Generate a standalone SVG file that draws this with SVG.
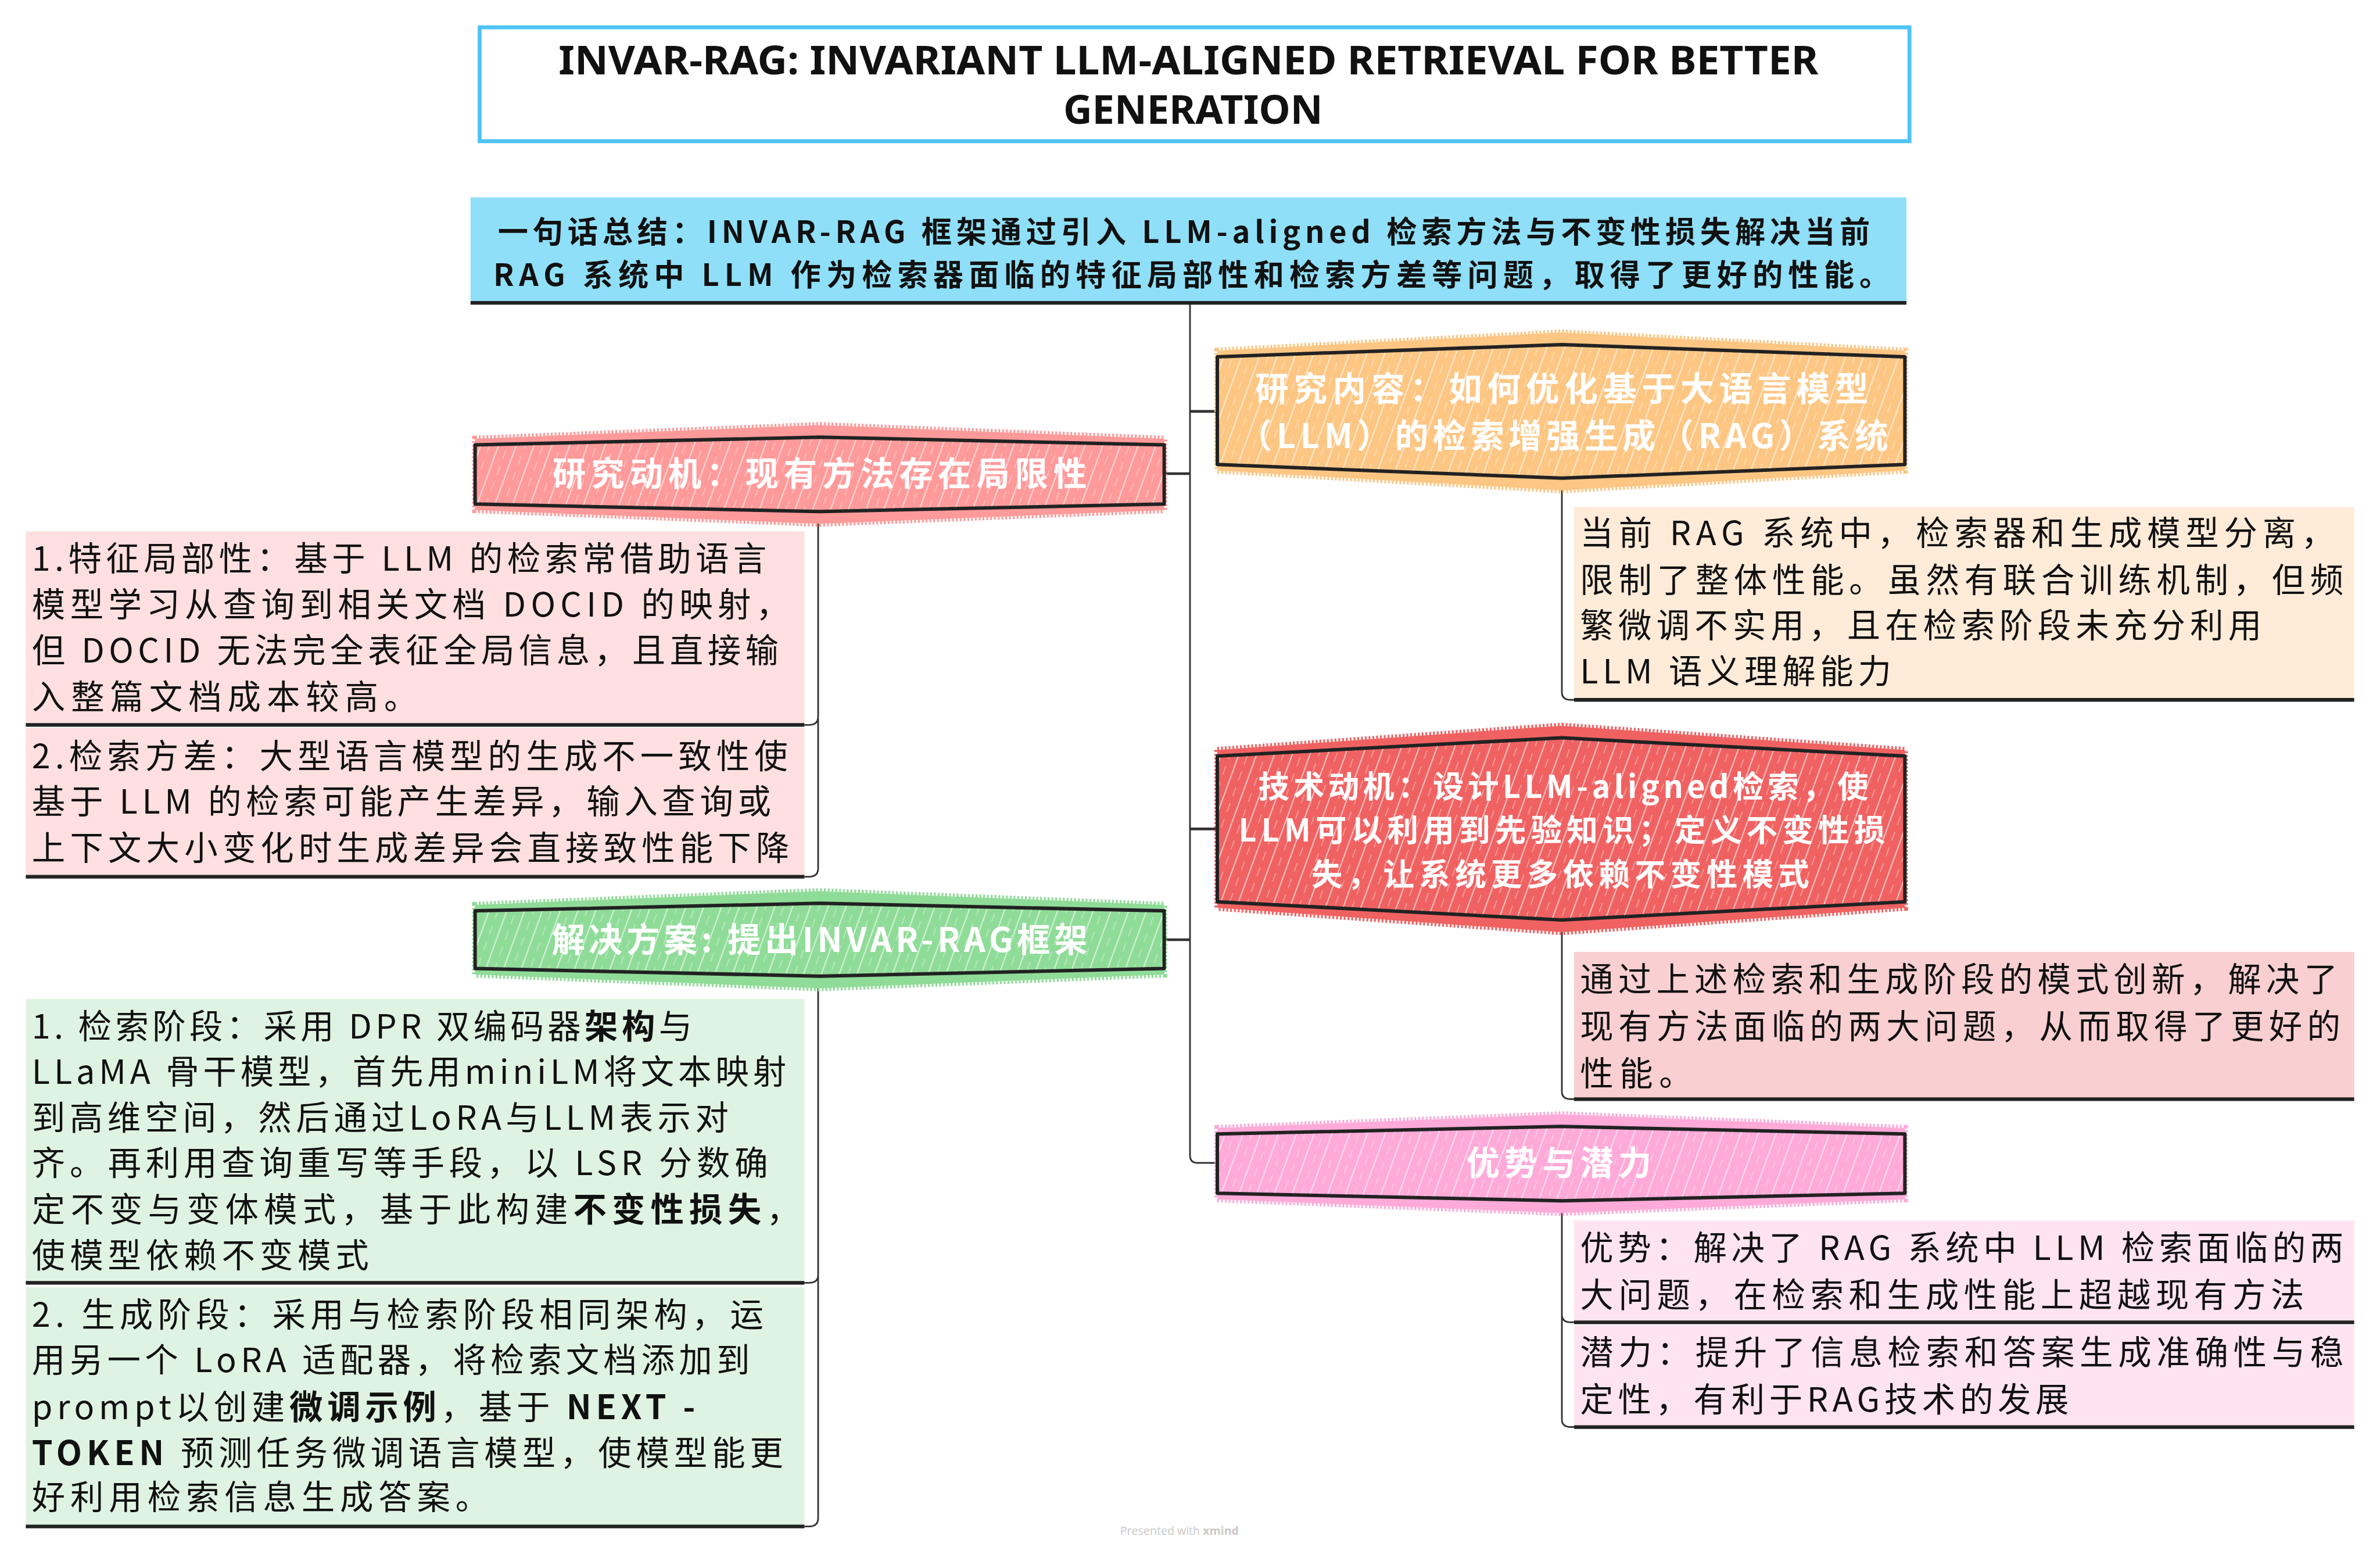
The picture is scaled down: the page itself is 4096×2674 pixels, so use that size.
<svg xmlns="http://www.w3.org/2000/svg" width="4096" height="2674" viewBox="0 0 4096 2674">
<style>
.conn{fill:none;stroke:#333;stroke-width:1.1}
.stub{fill:none;stroke:#333;stroke-width:1.8}
.hexo{stroke:#222;stroke-width:2.3;stroke-linejoin:round;fill:none}
.bline{stroke:#222;stroke-width:2.4}
.body{font-family:"Noto Sans CJK SC","Noto Sans",sans-serif;font-size:22px;fill:#111}
.hext{font-family:"Noto Sans CJK SC","Noto Sans",sans-serif;font-size:22px;font-weight:bold;fill:#fff;text-anchor:middle}
.hext2{font-size:20.5px}
.sum{font-family:"Noto Sans CJK SC","Noto Sans",sans-serif;font-size:20px;font-weight:bold;fill:#111;text-anchor:middle}
.title{font-family:"Noto Sans","Liberation Sans",sans-serif;font-size:26px;font-weight:bold;fill:#111;text-anchor:middle}
.b{font-weight:bold}
.foot{font-family:"Open Sans","Noto Sans",sans-serif;font-size:7.5px;fill:#c8c8c8}
</style>
<defs>
<pattern id="hatch" width="11" height="11" patternUnits="userSpaceOnUse" patternTransform="rotate(20)">
<line x1="2" y1="0" x2="2" y2="11" stroke="#fff" stroke-width="0.7" stroke-opacity="0.7"/>
<line x1="7.5" y1="0" x2="7.5" y2="6" stroke="#fff" stroke-width="0.5" stroke-opacity="0.5"/>
</pattern>
</defs>
<rect width="4096" height="2674" fill="#fff"/>
<g transform="scale(2.612245)">

<g id="connectors">
<path class="conn" d="M784 200 V761 Q784 766 789 766 H802"/>
<path class="stub" d="M784 312 H767"/>
<path class="stub" d="M784 619 H767"/>
<path class="stub" d="M784 271 H802"/>
<path class="stub" d="M784 546 H802"/>
<path class="conn" d="M539 338 V472 Q539 477.5 533 477.5 H530 M539 472 V572 Q539 577.5 533 577.5 H530"/>
<path class="conn" d="M539 644 V840 Q539 845 533 845 H530 M539 840 V1000 Q539 1005.5 533 1005.5 H530"/>
<path class="conn" d="M1029 316 V456 Q1029 461 1035 461 H1037"/>
<path class="conn" d="M1029 607 V719 Q1029 724 1035 724 H1037"/>
<path class="conn" d="M1029 792 V866 Q1029 871 1035 871 H1037 M1029 866 V935 Q1029 940 1035 940 H1037"/>
</g>

<g id="title">
<rect x="316" y="18" width="942" height="75" fill="#fff" stroke="#4fc3f7" stroke-width="2.6"/>
<text class="title" x="783" y="49" textLength="830" lengthAdjust="spacingAndGlyphs">INVAR-RAG: INVARIANT LLM-ALIGNED RETRIEVAL FOR BETTER</text>
<text class="title" x="786" y="81.5" textLength="171" lengthAdjust="spacingAndGlyphs">GENERATION</text>
</g>

<g id="summary">
<rect x="310" y="130" width="946" height="69" fill="#8fdff8"/>
<line class="bline" x1="310" y1="199.5" x2="1256" y2="199.5"/>
<text class="sum" x="780" y="160" textLength="904">一句话总结：INVAR-RAG 框架通过引入 LLM-aligned 检索方法与不变性损失解决当前</text>
<text class="sum" x="785" y="188.5" textLength="920">RAG 系统中 LLM 作为检索器面临的特征局部性和检索方差等问题，取得了更好的性能。</text>
</g>

<g id="motivation">
<polygon points="313,289 540,280 767,289 767,336 540,345 313,336" fill="#ff9a9a" stroke="#ff9a9a" stroke-width="4" stroke-dasharray="1.2 1.3"/>
<polygon points="313,293 540,288 767,293 767,332 540,337 313,332" fill="#ff9a9a"/>
<polygon points="313,293 540,288 767,293 767,332 540,337 313,332" fill="url(#hatch)"/>
<polygon class="hexo" points="313,293 540,288 767,293 767,332 540,337 313,332"/>
<text class="hext" x="540" y="320" textLength="352">研究动机：现有方法存在局限性</text>
</g>

<g id="motivation-1">
<rect x="17" y="350" width="513" height="127.5" fill="#ffdfdf"/>
<line class="bline" x1="17" y1="477.5" x2="530" y2="477.5"/>
<text class="body" x="21" y="376" textLength="484">1.特征局部性：基于 LLM 的检索常借助语言</text>
<text class="body" x="21" y="406" textLength="499">模型学习从查询到相关文档 DOCID 的映射，</text>
<text class="body" x="21" y="436.5" textLength="492">但 DOCID 无法完全表征全局信息，且直接输</text>
<text class="body" x="21" y="467" textLength="254">入整篇文档成本较高。</text>
</g>

<g id="motivation-2">
<rect x="17" y="479.5" width="513" height="98" fill="#ffdfdf"/>
<line class="bline" x1="17" y1="577.5" x2="530" y2="577.5"/>
<text class="body" x="21" y="506" textLength="498">2.检索方差：大型语言模型的生成不一致性使</text>
<text class="body" x="21" y="536" textLength="487">基于 LLM 的检索可能产生差异，输入查询或</text>
<text class="body" x="21" y="566.5" textLength="499">上下文大小变化时生成差异会直接致性能下降</text>
</g>

<g id="solution">
<polygon points="313,596 540,587 767,596 767,642 540,651 313,642" fill="#8fdc98" stroke="#8fdc98" stroke-width="4" stroke-dasharray="1.2 1.3"/>
<polygon points="313,600 540,595 767,600 767,638 540,643 313,638" fill="#8fdc98"/>
<polygon points="313,600 540,595 767,600 767,638 540,643 313,638" fill="url(#hatch)"/>
<polygon class="hexo" points="313,600 540,595 767,600 767,638 540,643 313,638"/>
<text class="hext" x="540" y="627" textLength="353">解决方案: 提出INVAR-RAG框架</text>
</g>

<g id="solution-1">
<rect x="17" y="658" width="513" height="187" fill="#dff3e2"/>
<line class="bline" x1="17" y1="845" x2="530" y2="845"/>
<text class="body" x="21" y="684" textLength="435">1. 检索阶段：采用 DPR 双编码器<tspan class="b">架构</tspan>与</text>
<text class="body" x="21" y="714" textLength="497">LLaMA 骨干模型，首先用miniLM将文本映射</text>
<text class="body" x="21" y="744" textLength="459">到高维空间，然后通过LoRA与LLM表示对</text>
<text class="body" x="21" y="774" textLength="485">齐。再利用查询重写等手段，以 LSR 分数确</text>
<text class="body" x="21" y="804.5" textLength="506">定不变与变体模式，基于此构建<tspan class="b">不变性损失</tspan>，</text>
<text class="body" x="21" y="835" textLength="222">使模型依赖不变模式</text>
</g>

<g id="solution-2">
<rect x="17" y="848" width="513" height="157.5" fill="#dff3e2"/>
<line class="bline" x1="17" y1="1005.5" x2="530" y2="1005.5"/>
<text class="body" x="21" y="874" textLength="482">2. 生成阶段：采用与检索阶段相同架构，运</text>
<text class="body" x="21" y="904" textLength="473">用另一个 LoRA 适配器，将检索文档添加到</text>
<text class="body" x="21" y="935" textLength="437">prompt以创建<tspan class="b">微调示例</tspan>，基于 <tspan class="b">NEXT -</tspan></text>
<text class="body" x="21" y="965" textLength="495"><tspan class="b">TOKEN</tspan> 预测任务微调语言模型，使模型能更</text>
<text class="body" x="21" y="994" textLength="301">好利用检索信息生成答案。</text>
</g>

<g id="research">
<polygon points="802,231 1029,219 1255,231 1255,310 1029,323 802,310" fill="#fdc683" stroke="#fdc683" stroke-width="4" stroke-dasharray="1.2 1.3"/>
<polygon points="802,235 1029,227 1255,235 1255,306 1029,315 802,306" fill="#fdc683"/>
<polygon points="802,235 1029,227 1255,235 1255,306 1029,315 802,306" fill="url(#hatch)"/>
<polygon class="hexo" points="802,235 1029,227 1255,235 1255,306 1029,315 802,306"/>
<text class="hext" x="1029" y="264" textLength="404">研究内容：如何优化基于大语言模型</text>
<text class="hext" x="1030" y="295" textLength="428">（LLM）的检索增强生成（RAG）系统</text>
</g>

<g id="research-1">
<rect x="1037" y="334" width="514" height="127" fill="#ffebd8"/>
<line class="bline" x1="1037" y1="461" x2="1551" y2="461"/>
<text class="body" x="1041" y="359" textLength="497">当前 RAG 系统中，检索器和生成模型分离，</text>
<text class="body" x="1041" y="390" textLength="503">限制了整体性能。虽然有联合训练机制，但频</text>
<text class="body" x="1041" y="420" textLength="449">繁微调不实用，且在检索阶段未充分利用</text>
<text class="body" x="1041" y="450" textLength="205">LLM 语义理解能力</text>
</g>

<g id="tech">
<polygon points="802,494 1029,478 1255,494 1255,598 1029,614 802,598" fill="#f06262" stroke="#f06262" stroke-width="4" stroke-dasharray="1.2 1.3"/>
<polygon points="802,498 1029,486 1255,498 1255,594 1029,606 802,594" fill="#f06262"/>
<polygon points="802,498 1029,486 1255,498 1255,594 1029,606 802,594" fill="url(#hatch)"/>
<polygon class="hexo" points="802,498 1029,486 1255,498 1255,594 1029,606 802,594"/>
<text class="hext hext2" x="1030" y="525.5" textLength="402">技术动机：设计LLM-aligned检索，使</text>
<text class="hext hext2" x="1029" y="554.5" textLength="426">LLM可以利用到先验知识；定义不变性损</text>
<text class="hext hext2" x="1028" y="583.5" textLength="328">失，让系统更多依赖不变性模式</text>
</g>

<g id="tech-1">
<rect x="1037" y="627" width="514" height="97" fill="#f9cfd1"/>
<line class="bline" x1="1037" y1="724" x2="1551" y2="724"/>
<text class="body" x="1041" y="653" textLength="499">通过上述检索和生成阶段的模式创新，解决了</text>
<text class="body" x="1041" y="684" textLength="501">现有方法面临的两大问题，从而取得了更好的</text>
<text class="body" x="1041" y="715" textLength="74">性能。</text>
</g>

<g id="advantage">
<polygon points="802,743 1029,734 1255,743 1255,790 1029,799 802,790" fill="#ffaad8" stroke="#ffaad8" stroke-width="4" stroke-dasharray="1.2 1.3"/>
<polygon points="802,747 1029,742 1255,747 1255,786 1029,791 802,786" fill="#ffaad8"/>
<polygon points="802,747 1029,742 1255,747 1255,786 1029,791 802,786" fill="url(#hatch)"/>
<polygon class="hexo" points="802,747 1029,742 1255,747 1255,786 1029,791 802,786"/>
<text class="hext" x="1027" y="774" textLength="122">优势与潜力</text>
</g>

<g id="advantage-1">
<rect x="1037" y="804" width="514" height="67" fill="#ffe3f0"/>
<line class="bline" x1="1037" y1="871" x2="1551" y2="871"/>
<text class="body" x="1041" y="830" textLength="503">优势：解决了 RAG 系统中 LLM 检索面临的两</text>
<text class="body" x="1041" y="861" textLength="477">大问题，在检索和生成性能上超越现有方法</text>
</g>

<g id="advantage-2">
<rect x="1037" y="873" width="514" height="67" fill="#ffe3f0"/>
<line class="bline" x1="1037" y1="940" x2="1551" y2="940"/>
<text class="body" x="1041" y="899" textLength="503">潜力：提升了信息检索和答案生成准确性与稳</text>
<text class="body" x="1041" y="930" textLength="322">定性，有利于RAG技术的发展</text>
</g>

<text class="foot" x="738" y="1011">Presented with <tspan class="b">xmind</tspan></text>
</g>
</svg>
